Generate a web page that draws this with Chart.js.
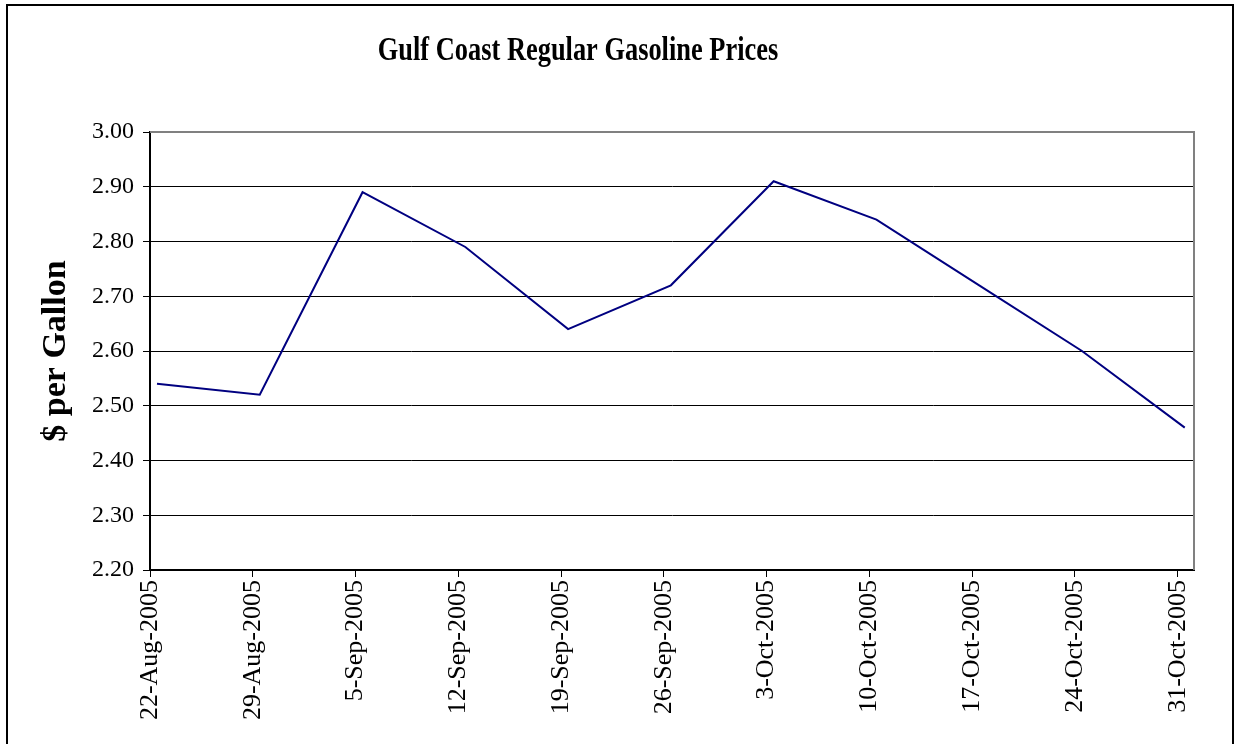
<!DOCTYPE html>
<html>
<head>
<meta charset="utf-8">
<script src="https://cdn.jsdelivr.net/npm/chart.js@4/dist/chart.umd.min.js"></script>
<style>
  html, body { margin: 0; padding: 0; background: #fff; overflow: hidden; }
  #wrap { position: absolute; left: 0; top: 0; width: 1235px; height: 744px; }
</style>
</head>
<body>
<div id="wrap"><canvas id="chart"></canvas></div>
<script>
// ── DATA ──────────────────────────────────────────────────────────────────
const titleText = 'Gulf Coast Regular Gasoline Prices';
const weeks  = ['22-Aug-2005','29-Aug-2005','5-Sep-2005','12-Sep-2005','19-Sep-2005','26-Sep-2005',
                '3-Oct-2005','10-Oct-2005','17-Oct-2005','24-Oct-2005','31-Oct-2005'];
const prices = [2.54, 2.52, 2.89, 2.79, 2.64, 2.72, 2.91, 2.84, 2.72, 2.60, 2.46];
const yMin = 2.20, yMax = 3.00, yStep = 0.10;

const SERIF = '"Liberation Serif", "Times New Roman", serif';
// the Excel export puts tick marks a bit left of the data points
const TICK_SHIFT = -0.068;

// frame round the chart, condensed bold title, grey top/right plot edge
const framePlugin = {
  id: 'frame',
  beforeDraw(chart) {
    const c = chart.ctx;
    c.save();
    c.fillStyle = '#fff';
    c.fillRect(0, 0, chart.width, chart.height);
    c.strokeStyle = '#000';
    c.lineWidth = 2;
    c.strokeRect(7, 5, 1226, 800);
    // title (Times bold, squeezed horizontally like the source)
    c.fillStyle = '#000';
    c.font = 'bold 33px ' + SERIF;
    c.textAlign = 'center';
    c.textBaseline = 'alphabetic';
    c.translate(578, 60);
    c.scale(0.8, 1);
    c.fillText(titleText, 0, 0);
    c.restore();
  },
  afterDraw(chart) {
    const { left, right, top, bottom } = chart.chartArea;
    const c = chart.ctx;
    c.save();
    c.strokeStyle = '#808080';
    c.lineWidth = 2;
    c.beginPath();
    c.moveTo(left, top);
    c.lineTo(right, top);
    c.lineTo(right, bottom);
    c.stroke();
    c.restore();
  }
};

new Chart(document.getElementById('chart'), {
  type: 'line',
  data: {
    datasets: [{
      label: 'Gulf Coast Regular',
      data: prices.map((p, i) => ({ x: i, y: p })),
      borderColor: '#000080',
      borderWidth: 2,
      pointRadius: 0,
      tension: 0,
    }],
  },
  options: {
    responsive: true, maintainAspectRatio: false, animation: false,
    layout: { padding: { left: 0, right: 41, top: 132, bottom: 0 } },
    plugins: {
      legend: { display: false },
      tooltip: { enabled: false },
      title: { display: false },
    },
    scales: {
      x: {
        type: 'linear',
        min: -0.068, max: 10.09,
        afterFit(s) { s.height = 174; },
        afterBuildTicks(s) { s.ticks = weeks.map((_, i) => ({ value: i + TICK_SHIFT })); },
        ticks: {
          autoSkip: false,
          maxRotation: 90, minRotation: 90, padding: 3,
          color: '#000', font: { family: SERIF, size: 26 },
          callback: (v, i) => weeks[i] || '',
        },
        grid: { drawOnChartArea: false, drawTicks: true, tickLength: 7, color: '#000', lineWidth: 1 },
        border: { color: '#000', width: 2 },
      },
      y: {
        min: yMin, max: yMax,
        afterFit(s) { s.width = 150; },
        ticks: {
          stepSize: yStep, padding: 9,
          color: '#000', font: { family: SERIF, size: 24 },
          callback: v => Number(v).toFixed(2),
        },
        grid: { color: '#000', lineWidth: 1, tickLength: 7 },
        border: { color: '#000', width: 2 },
        title: {
          display: true, text: '$ per Gallon', color: '#000',
          font: { family: SERIF, size: 34, weight: 'bold' },
          padding: { top: 36, bottom: 0 },
        },
      },
    },
  },
  plugins: [framePlugin],
});
</script>
</body>
</html>
